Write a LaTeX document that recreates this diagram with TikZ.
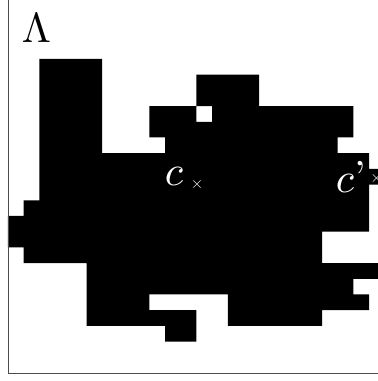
\documentclass[tikz,border=0pt]{standalone}
\begin{document}
\begin{tikzpicture}[x=15.7pt,y=15.7pt,
  frameline/.style={draw=black!70,line width=0.8pt},
  bigtext/.style={inner sep=0pt,scale=4.2},
  xmark/.style={inner sep=0pt,text=white,scale=1.6}]
\useasboundingbox (-8pt,-8pt) rectangle (370pt,373pt);
\clip (-8pt,-8pt) rectangle (370pt,373pt);
% black lattice set
\fill[black]
  (2,19) rectangle (6,20)
  (2,18) rectangle (6,19) (12,18) rectangle (16,19)
  (2,17) rectangle (6,18) (12,17) rectangle (16,18)
  (2,16) rectangle (6,17) (9,16) rectangle (12,17) (13,16) rectangle (22,17)
  (2,15) rectangle (6,16) (9,15) rectangle (22,16)
  (2,14) rectangle (6,15) (10,14) rectangle (21,15)
  (2,13) rectangle (23,14)
  (2,12) rectangle (25,13)
  (2,11) rectangle (23,12)
  (1,10) rectangle (23,11)
  (0,9) rectangle (23,10)
  (0,8) rectangle (20,9)
  (1,7) rectangle (20,8)
  (5,6) rectangle (25,7)
  (5,5) rectangle (22,6)
  (5,4) rectangle (9,5) (14,4) rectangle (23,5)
  (5,3) rectangle (12,4) (14,3) rectangle (20,4)
  (10,2) rectangle (12,3);
% frame
\draw[frameline] (0,0) rectangle (30,30);
% labels
\node[bigtext,anchor=base] (lam) at (28.5pt,330pt) {$\Lambda$};
\node[bigtext,anchor=base,text=white] (c) at (166pt,187pt) {$c$};
\node[xmark] (xc) at (189pt,188pt) {$\times$};
\node[bigtext,anchor=base west,text=white] (cp) at (327pt,180pt) {$c$\raisebox{0.6pt}{'}};
\node[xmark] (xcp) at (368.5pt,194.5pt) {$\times$};
\end{tikzpicture}
\end{document}
